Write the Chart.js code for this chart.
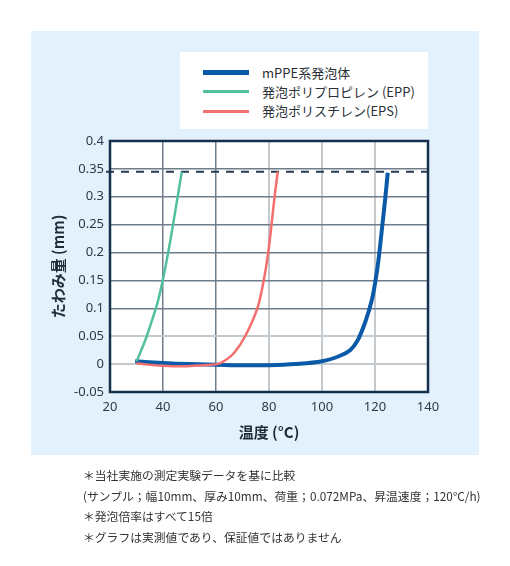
<!DOCTYPE html>
<html><head><meta charset="utf-8">
<script src="https://cdn.jsdelivr.net/npm/chart.js@4/dist/chart.umd.min.js"></script>
<style>
html,body{margin:0;padding:0;background:#fff;width:510px;height:566px;overflow:hidden;font-family:"Noto Sans CJK JP","Noto Sans",sans-serif;}
#panel{position:absolute;left:31px;top:31px;width:448px;height:424px;background:#e2f1fc;}
#wrap{position:absolute;left:0;top:0;width:510px;height:566px;}
#legend{position:absolute;left:180px;top:52px;width:248px;height:77px;background:#fff;}
.item{position:absolute;left:82px;height:20px;font-size:13px;color:#2a2f36;line-height:20px;white-space:nowrap;}
.sw{position:absolute;left:23px;width:46px;}
#notes{position:absolute;left:83px;top:465px;font-size:11.8px;color:#333;line-height:20.6px;white-space:nowrap;}
</style>
</head><body>
<div id="panel"></div>
<div id="wrap"><canvas id="c" width="510" height="566"></canvas></div>
<div id="legend"></div>
<div id="notes">
<div>＊当社実施の測定実験データを基に比較</div>
<div>(サンプル；幅10mm、厚み10mm、荷重；0.072MPa、昇温速度；120°C/h)</div>
<div>＊発泡倍率はすべて15倍</div>
<div>＊グラフは実測値であり、保証値ではありません</div>
</div>
<script>
// ---- data ----
const seriesNames = ['mPPE系発泡体', '発泡ポリプロピレン (EPP)', '発泡ポリスチレン(EPS)'];
const seriesColors = ['#0b5aa8', '#52bf9e', '#f46e6e'];

const mppeTemp = [29.5, 40, 50, 60, 70, 80, 90, 100, 106.8, 110.6, 113.5, 116.5, 118.8, 120.2, 121.4, 122.7, 123.8, 124.8];
const mppeDefl = [0.005, 0.002, 0.0, -0.001, -0.002, -0.002, 0.0, 0.005, 0.015, 0.025, 0.043, 0.078, 0.115, 0.15, 0.19, 0.246, 0.294, 0.343];

const eppTemp = [30, 31.3, 33.8, 36.3, 38.2, 39.9, 41.4, 43.0, 44.9, 47.1];
const eppDefl = [0.005, 0.019, 0.049, 0.085, 0.115, 0.15, 0.186, 0.228, 0.282, 0.345];

const epsTemp = [30, 40, 48, 55, 60.5, 63.2, 66.8, 71.0, 75.6, 78.0, 79.7, 80.95, 82.1, 83.3];
const epsDefl = [0.001, -0.003, -0.004, -0.002, 0.0, 0.006, 0.02, 0.05, 0.1, 0.15, 0.2, 0.25, 0.3, 0.345];

const limitValue = 0.345;
const limitRange = [18.5, 140];

const xTickValues = [20, 40, 60, 80, 100, 120, 140];
const xTickLabels = ['20', '40', '60', '80', '100', '120', '140'];
const yTickValues = [-0.05, 0, 0.05, 0.1, 0.15, 0.2, 0.25, 0.3, 0.35, 0.4];
const yTickLabels = ['-0.05', '0', '0.05', '0.1', '0.15', '0.2', '0.25', '0.3', '0.35', '0.4'];
const xTitle = '温度 (°C)';
const yTitle = 'たわみ量 (mm)';

// ---- legend (HTML) ----
const lw = [5, 3, 3];
const rowY = [20.7, 39.7, 59];
const lg = document.getElementById('legend');
seriesNames.forEach((n, i) => {
  const s = document.createElement('div');
  s.className = 'sw';
  s.style.top = (rowY[i] - lw[i] / 2) + 'px';
  s.style.height = lw[i] + 'px';
  s.style.background = seriesColors[i];
  lg.appendChild(s);
  const t = document.createElement('div');
  t.className = 'item';
  t.style.top = (rowY[i] - 10) + 'px';
  t.textContent = n;
  lg.appendChild(t);
});

const zip = (a, b) => a.map((v, i) => ({x: v, y: b[i]}));
const near = (a, b) => Math.abs(a - b) < 1e-9;

const bgPlugin = {
  id: 'bg',
  beforeDraw(chart) {
    const {ctx, chartArea: a} = chart;
    ctx.save();
    ctx.fillStyle = '#ffffff';
    ctx.fillRect(a.left, a.top, a.right - a.left, a.bottom - a.top);
    ctx.restore();
  },
  afterDraw(chart) {
    const {ctx, chartArea: a} = chart;
    ctx.save();
    ctx.strokeStyle = '#15304a';
    ctx.lineWidth = 2.5;
    ctx.strokeRect(a.left, a.top, a.right - a.left, a.bottom - a.top);
    ctx.restore();
  }
};

const DARK = '#6e7d8c', LIGHT = '#c4c9ce';

new Chart(document.getElementById('c'), {
  type: 'line',
  data: {
    datasets: [
      {label: seriesNames[1], data: zip(eppTemp, eppDefl), borderColor: seriesColors[1], borderWidth: 2.5, pointRadius: 0, tension: 0.35, fill: false},
      {label: seriesNames[2], data: zip(epsTemp, epsDefl), borderColor: seriesColors[2], borderWidth: 2.5, pointRadius: 0, tension: 0.35, fill: false},
      {label: seriesNames[0], data: zip(mppeTemp, mppeDefl), borderColor: seriesColors[0], borderWidth: 4, pointRadius: 0, tension: 0.35, fill: false},
      {label: 'limit', data: limitRange.map(x => ({x, y: limitValue})), borderColor: '#233a50', borderWidth: 2, borderDash: [8, 7], pointRadius: 0, clip: false, fill: false}
    ]
  },
  options: {
    responsive: false,
    animation: false,
    events: [],
    layout: {padding: {left: 40, right: 82, top: 141, bottom: 114}},
    plugins: {legend: {display: false}, tooltip: {enabled: false}},
    scales: {
      x: {
        type: 'linear', min: 20, max: 140,
        afterBuildTicks: s => { s.ticks = xTickValues.map(v => ({value: v})); },
        afterFit: s => { s.height = 60; },
        ticks: {padding: 7, color: '#2b3a4a', font: {family: 'Noto Sans', size: 13},
          callback: (v) => { const i = xTickValues.findIndex(t => near(t, v)); return i >= 0 ? xTickLabels[i] : ''; }},
        grid: {drawTicks: false,
          color: c => (c.tick && (near(c.tick.value, 40) || near(c.tick.value, 60))) ? DARK : LIGHT,
          lineWidth: c => (c.tick && (near(c.tick.value, 40) || near(c.tick.value, 60))) ? 1.5 : 2},
        border: {display: false},
        title: {display: true, text: xTitle, color: '#1e2b38', font: {family: 'Noto Sans CJK JP', size: 15, weight: 'bold'}, padding: {top: 0, bottom: 11}}
      },
      y: {
        type: 'linear', min: -0.05, max: 0.4,
        afterBuildTicks: s => { s.ticks = yTickValues.map(v => ({value: v})); },
        afterFit: s => { s.width = 70; },
        ticks: {padding: 6, color: '#2b3a4a', font: {family: 'Noto Sans', size: 13},
          callback: (v) => { const i = yTickValues.findIndex(t => near(t, v)); return i >= 0 ? yTickLabels[i] : ''; }},
        grid: {drawTicks: false,
          color: c => (c.tick && (near(c.tick.value, 0) || near(c.tick.value, 0.05))) ? LIGHT : DARK,
          lineWidth: c => (c.tick && (near(c.tick.value, 0) || near(c.tick.value, 0.05))) ? 2 : 1.5},
        border: {display: false},
        title: {display: true, text: yTitle, color: '#1e2b38', font: {family: 'Noto Sans CJK JP', size: 15, weight: 'bold'}, padding: {top: 9, bottom: 0}}
      }
    }
  },
  plugins: [bgPlugin]
});
</script>
</body></html>
